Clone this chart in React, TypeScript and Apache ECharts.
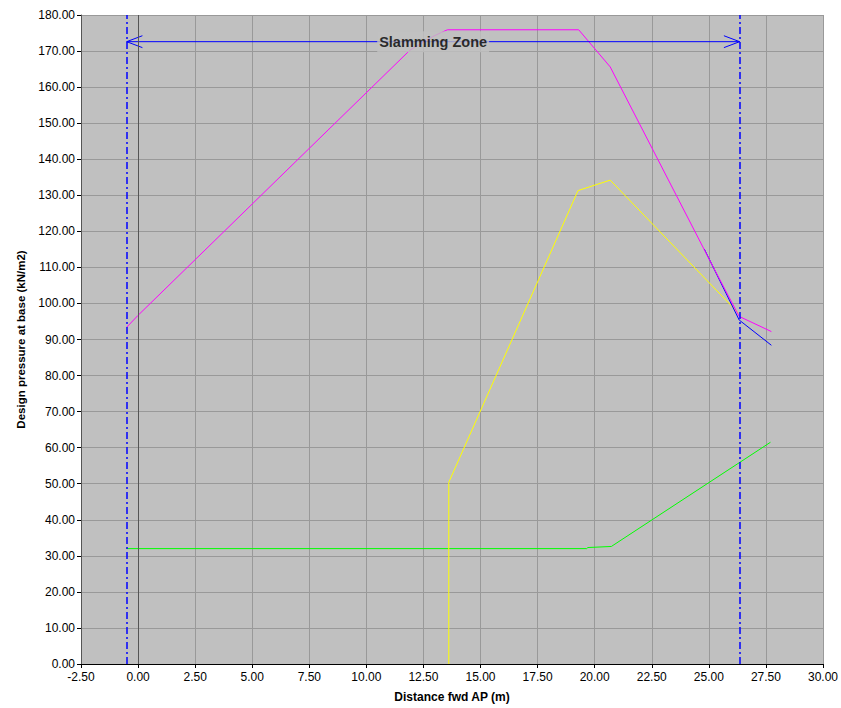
import React, { useEffect, useRef } from "react";
import * as echarts from "echarts";

// Data
const xTicks = { min: -2.5, max: 30, interval: 2.5 };
const yTicks = { min: 0, max: 180, interval: 10 };

const magentaX = [-0.5, 0, 11.9, 12.9, 13.3, 13.55, 19.3, 20.68, 25.2, 26.33, 27.74];
const magentaY = [93.4, 96.7, 170.2, 174.0, 175.2, 175.9, 175.9, 165.6, 110.0, 96.4, 92.2];

const blueX = [24.8, 26.33, 27.74];
const blueY = [115.1, 95.4, 88.4];

const yellowX = [13.61, 13.61, 19.27, 20.68, 26.3];
const yellowY = [0, 50.4, 131.3, 134.2, 97.3];

const greenX = [-0.5, 19.65, 19.7, 20.73, 27.7];
const greenY = [32.0, 32.0, 32.3, 32.6, 61.5];

const zoneStart = -0.5;
const zoneEnd = 26.35;
const zoneLevel = 172.6;
const zoneLabel = "Slamming Zone";

const zip = (xs: number[], ys: number[]) => xs.map((x, i) => [x, ys[i]]);

export default function App() {
  const ref = useRef<HTMLDivElement>(null);

  useEffect(() => {
    if (!ref.current) return;
    const chart = echarts.init(ref.current, undefined, { renderer: "svg" });
    const font = "'Liberation Sans', Arial, sans-serif";
    const barbDx = 0.69;
    const barbDy = 1.65;
    const dashDot = [7, 3, 2, 3];
    const lineBase = {
      type: "line" as const,
      showSymbol: false,
      symbol: "none",
      silent: true,
      animation: false,
    };
    chart.setOption({
      animation: false,
      backgroundColor: "#ffffff",
      grid: { left: 81, right: 14, top: 15, bottom: 39, show: true, backgroundColor: "#c0c0c0", borderWidth: 0 },
      xAxis: {
        type: "value",
        min: xTicks.min,
        max: xTicks.max,
        interval: xTicks.interval,
        name: "Distance fwd AP (m)",
        nameLocation: "middle",
        nameGap: 27,
        nameTextStyle: { fontFamily: font, fontWeight: "bold", fontSize: 12, color: "#000" },
        axisLine: { show: true, onZero: false, lineStyle: { color: "#000", width: 1 } },
        axisTick: { show: true, length: 4, lineStyle: { color: "#000" } },
        axisLabel: { fontFamily: font, fontSize: 12, color: "#000", margin: 7, formatter: (v: number) => v.toFixed(2) },
        splitLine: { show: true, lineStyle: { color: "#999999", width: 1 } },
      },
      yAxis: {
        type: "value",
        min: yTicks.min,
        max: yTicks.max,
        interval: yTicks.interval,
        name: "Design pressure at base (kN/m2)",
        nameLocation: "middle",
        nameGap: 54,
        nameRotate: 90,
        nameTextStyle: { fontFamily: font, fontWeight: "bold", fontSize: 11.5, color: "#000" },
        axisLine: { show: true, onZero: false, lineStyle: { color: "#555", width: 1 } },
        axisTick: { show: true, length: 4, lineStyle: { color: "#000" } },
        axisLabel: { fontFamily: font, fontSize: 12, color: "#000", margin: 6, formatter: (v: number) => v.toFixed(2) },
        splitLine: { show: true, lineStyle: { color: "#999999", width: 1 } },
      },
      series: [
        {
          ...lineBase,
          name: "zero",
          data: [],
          markLine: {
            silent: true,
            symbol: "none",
            label: { show: false },
            lineStyle: { color: "#555", type: "solid", width: 1 },
            data: [{ xAxis: 0 }],
          },
        },
        {
          ...lineBase,
          name: "zone",
          data: [],
          markLine: {
            silent: true,
            symbol: "none",
            label: { show: false },
            lineStyle: { color: "#0000ff", type: dashDot, width: 1.5 },
            data: [{ xAxis: zoneStart }, { xAxis: zoneEnd }],
          },
        },
        { ...lineBase, name: "green", data: zip(greenX, greenY), lineStyle: { color: "#00ff00", width: 1 } },
        { ...lineBase, name: "yellow", data: zip(yellowX, yellowY), lineStyle: { color: "#ffff00", width: 1 } },
        { ...lineBase, name: "blue", data: zip(blueX, blueY), lineStyle: { color: "#0000ff", width: 1 } },
        { ...lineBase, name: "magenta", data: zip(magentaX, magentaY), lineStyle: { color: "#ff00ff", width: 1 } },
        {
          ...lineBase,
          name: "arrowShaft",
          data: [[zoneStart, zoneLevel], [zoneEnd, zoneLevel]],
          lineStyle: { color: "#0000ff", width: 1 },
        },
        {
          ...lineBase,
          name: "arrowLeft",
          data: [[zoneStart + barbDx, zoneLevel + barbDy], [zoneStart, zoneLevel], [zoneStart + barbDx, zoneLevel - barbDy]],
          lineStyle: { color: "#0000ff", width: 1 },
        },
        {
          ...lineBase,
          name: "arrowRight",
          data: [[zoneEnd - barbDx, zoneLevel + barbDy], [zoneEnd, zoneLevel], [zoneEnd - barbDx, zoneLevel - barbDy]],
          lineStyle: { color: "#0000ff", width: 1 },
        },
        {
          type: "scatter",
          name: "zoneLabel",
          silent: true,
          symbolSize: 1,
          itemStyle: { color: "rgba(0,0,0,0)" },
          z: 10,
          data: [[(zoneStart + zoneEnd) / 2, zoneLevel]],
          label: {
            show: true,
            position: "inside",
            formatter: zoneLabel,
            fontFamily: font,
            fontWeight: "bold",
            fontSize: 14.5,
            color: "#000",
            backgroundColor: "#c0c0c0",
            padding: [3, 2, 3, 2],
          },
        },
      ],
    });
    return () => chart.dispose();
  }, []);

  return (
    <div
      ref={ref}
      style={{ position: "fixed", left: 0, top: 0, width: 841, height: 708, background: "#fff" }}
    />
  );
}
